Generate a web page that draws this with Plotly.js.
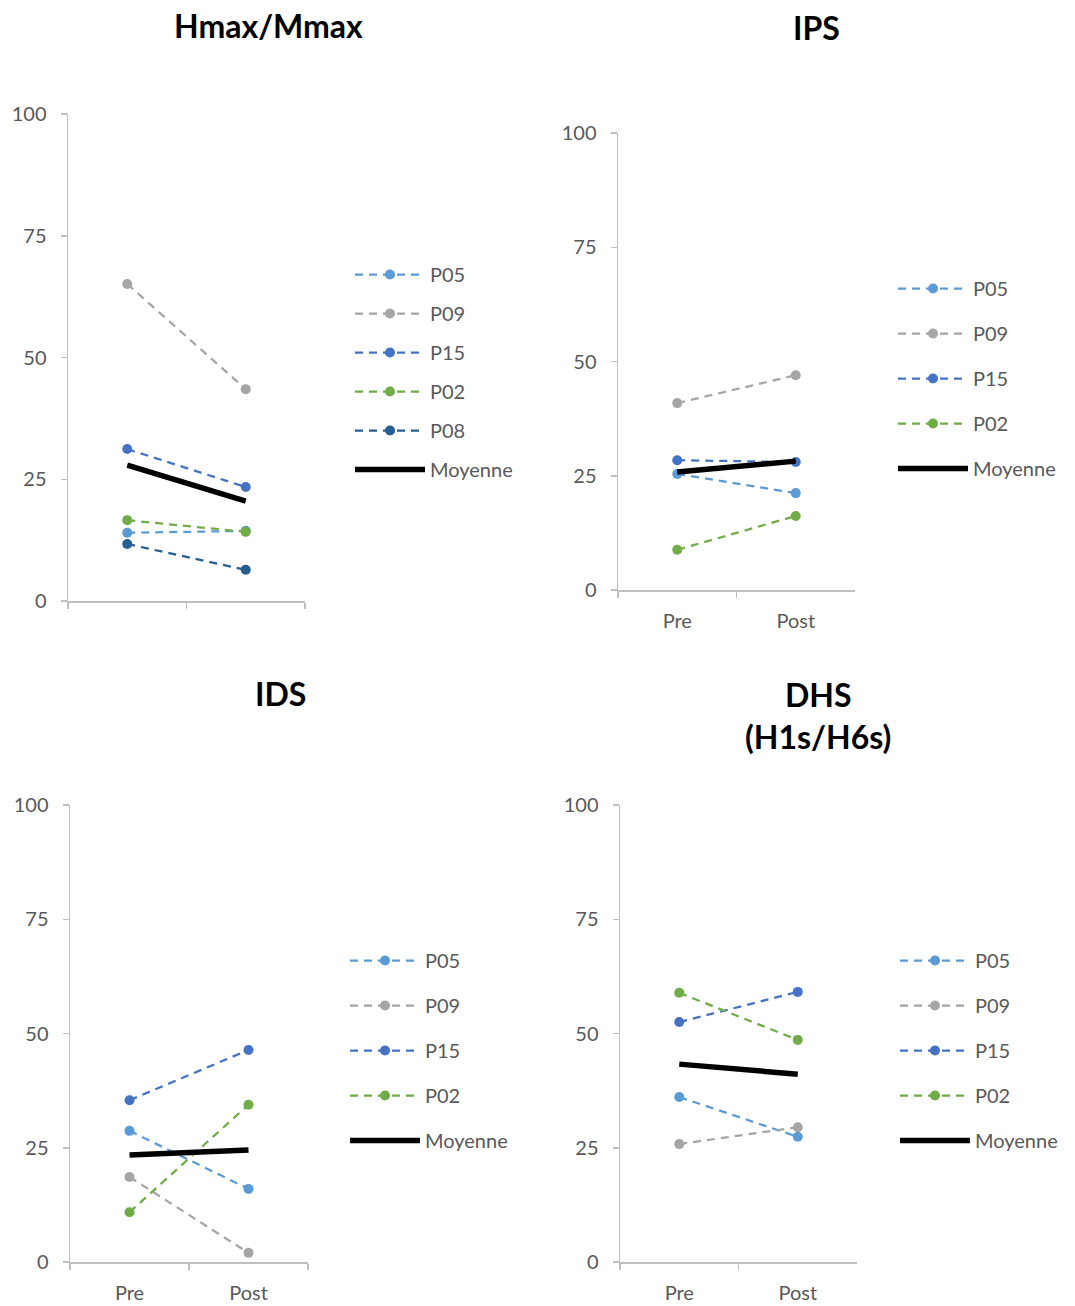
<!DOCTYPE html>
<html>
<head>
<meta charset="utf-8">
<script src="https://cdn.plot.ly/plotly-3.0.1.min.js"></script>
<style>html,body{margin:0;padding:0;background:#fff;}#chart{width:1075px;height:1306px;}</style>
</head>
<body>
<div id="chart"></div>
<script>
// ---- Data ----
const categories = ["Pre", "Post"];

const panelTitles = ["Hmax/Mmax", "IPS", "IDS", "DHS<br>(H1s/H6s)"];

// Hmax/Mmax
const hmax_P05 = [14.0, 14.4];
const hmax_P09 = [65.1, 43.5];
const hmax_P15 = [31.2, 23.4];
const hmax_P02 = [16.6, 14.2];
const hmax_P08 = [11.7, 6.4];
const hmax_Moyenne = [27.9, 20.5];

// IPS
const ips_P05 = [25.4, 21.2];
const ips_P09 = [40.9, 47.0];
const ips_P15 = [28.4, 28.0];
const ips_P02 = [8.8, 16.2];
const ips_Moyenne = [25.8, 28.2];

// IDS
const ids_P05 = [28.7, 16.0];
const ids_P09 = [18.6, 2.0];
const ids_P15 = [35.4, 46.4];
const ids_P02 = [10.9, 34.4];
const ids_Moyenne = [23.4, 24.5];

// DHS (H1s/H6s)
const dhs_P05 = [36.1, 27.4];
const dhs_P09 = [25.8, 29.5];
const dhs_P15 = [52.5, 59.1];
const dhs_P02 = [58.9, 48.6];
const dhs_Moyenne = [43.3, 41.1];

const yTickVals = [0, 25, 50, 75, 100];

// ---- Styles ----
const colors = {P05: "#5B9BD5", P09: "#A5A5A5", P15: "#4472C4", P02: "#70AD47", P08: "#255E91"};
const FONT = "Lato, 'Open Sans', sans-serif";
const GREY_TXT = "#595959";
const AXIS_COL = "#BFBFBF";

const panels = [
  {series: [["P05", hmax_P05], ["P09", hmax_P09], ["P15", hmax_P15], ["P02", hmax_P02], ["P08", hmax_P08]], mean: hmax_Moyenne},
  {series: [["P05", ips_P05], ["P09", ips_P09], ["P15", ips_P15], ["P02", ips_P02]], mean: ips_Moyenne},
  {series: [["P05", ids_P05], ["P09", ids_P09], ["P15", ids_P15], ["P02", ids_P02]], mean: ids_Moyenne},
  {series: [["P05", dhs_P05], ["P09", dhs_P09], ["P15", dhs_P15], ["P02", dhs_P02]], mean: dhs_Moyenne}
];

const W = 1075, H = 1306;
// plot areas in pixels: [left, right, top(100), bottom(0)]
const areas = [
  [68, 305, 114, 601],
  [618, 855, 133, 590],
  [70, 308, 805, 1262],
  [620, 857, 805, 1262]
];
const legendPos = [[350, 255, 10], [893, 269, 16], [345, 941, 16], [895, 941, 16]];
const titlePos = [[268, 25], [816, 27], [280, 693], [818, 715]];

const traces = [];
const layout = {
  width: W, height: H,
  margin: {l: 0, r: 0, t: 0, b: 0},
  paper_bgcolor: "#fff", plot_bgcolor: "#fff",
  font: {family: FONT, color: GREY_TXT, size: 20},
  annotations: [],
  showlegend: true
};

panels.forEach((p, i) => {
  const n = i + 1;
  const xa = n === 1 ? "x" : "x" + n;
  const ya = n === 1 ? "y" : "y" + n;
  const lg = n === 1 ? "legend" : "legend" + n;
  p.series.forEach(([name, vals]) => {
    traces.push({
      type: "scatter", mode: "lines+markers",
      x: categories, y: vals, name: name,
      xaxis: xa, yaxis: ya, legend: lg, legendgroup: "g" + n + name,
      line: {color: colors[name], width: 2.25, dash: "8px,6px"},
      marker: {color: colors[name], size: 10},
      hoverinfo: "skip"
    });
  });
  traces.push({
    type: "scatter", mode: "lines",
    x: categories, y: p.mean, name: "Moyenne",
    xaxis: xa, yaxis: ya, legend: lg, legendgroup: "g" + n + "M",
    line: {color: "#000", width: 5.5},
    hoverinfo: "skip"
  });

  const a = areas[i];
  const xKey = n === 1 ? "xaxis" : "xaxis" + n;
  const yKey = n === 1 ? "yaxis" : "yaxis" + n;
  layout[xKey] = {
    domain: [a[0] / W, a[1] / W],
    anchor: ya,
    type: "category",
    range: [-0.5, 1.5],
    tickson: "boundaries",
    ticks: "outside", ticklen: 6, tickcolor: AXIS_COL, tickwidth: 1.5,
    showline: true, linecolor: AXIS_COL, linewidth: 1.5,
    showgrid: false, zeroline: false,
    showticklabels: n !== 1,
    tickfont: {family: FONT, size: 20, color: GREY_TXT},
    ticklabelstandoff: 12,
    fixedrange: true
  };
  layout[yKey] = {
    domain: [1 - a[3] / H, 1 - a[2] / H],
    anchor: xa,
    range: [0, 100],
    tickvals: yTickVals,
    ticks: "outside", ticklen: 6, tickcolor: AXIS_COL, tickwidth: 1.5,
    showline: true, linecolor: AXIS_COL, linewidth: 1.5,
    showgrid: false, zeroline: false,
    tickfont: {family: FONT, size: 20, color: GREY_TXT},
    ticklabelstandoff: 10,
    fixedrange: true
  };
  const lp = legendPos[i];
  layout[lg] = {
    x: lp[0] / W, y: 1 - lp[1] / H, xanchor: "left", yanchor: "top",
    xref: "paper", yref: "paper",
    font: {family: FONT, size: 20, color: GREY_TXT},
    bgcolor: "rgba(0,0,0,0)",
    itemwidth: 70,
    tracegroupgap: lp[2],
    traceorder: "grouped",
    itemclick: false, itemdoubleclick: false
  };
  const tp = titlePos[i];
  layout.annotations.push({
    text: "<b>" + panelTitles[i] + "</b>",
    x: tp[0] / W, y: 1 - tp[1] / H, xref: "paper", yref: "paper",
    xanchor: "center", yanchor: "middle", showarrow: false,
    font: {family: FONT, size: 32, color: "#000"}
  });
});

Plotly.newPlot("chart", traces, layout, {displayModeBar: false, staticPlot: true});
</script>
</body>
</html>
